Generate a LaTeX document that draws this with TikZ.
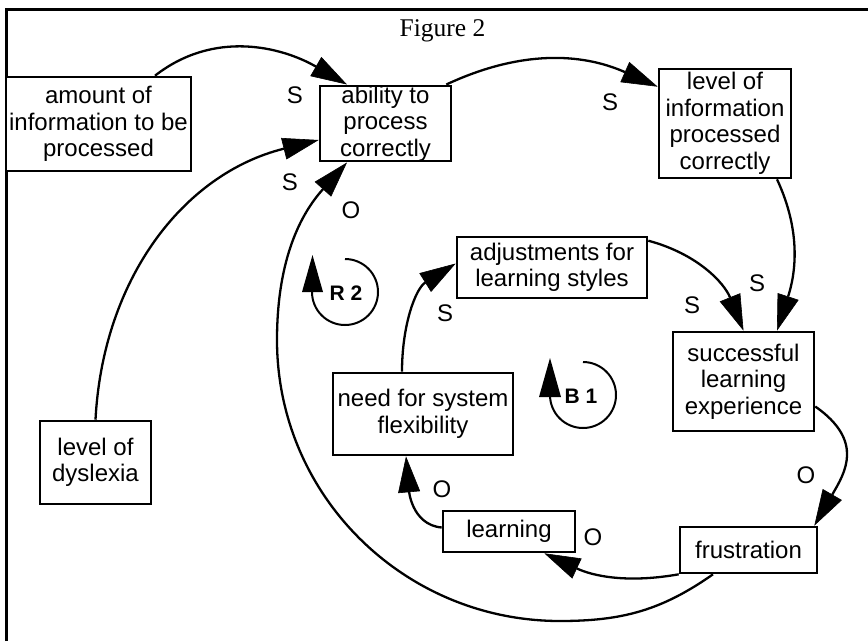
\documentclass[tikz,border=0pt]{standalone}
\usepackage{fontspec}
\setmainfont{Liberation Sans}
\newfontfamily\figserif{Liberation Serif}
\usetikzlibrary{arrows.meta,calc}
\begin{document}
\begin{tikzpicture}[x=1pt,y=1pt,
  box/.style={draw, line width=2.6pt, inner sep=0pt, align=center, fill=white,
    font=\fontsize{24}{26.5}\selectfont},
  lbl/.style={inner sep=0pt, font=\fontsize{24}{26}\selectfont},
  conn/.style={line width=2.3pt, -{Triangle[length=36pt,width=22pt,line width=0.6pt]}},
  loopline/.style={line width=2pt},
  loopname/.style={inner sep=0pt, font=\bfseries\fontsize{21}{21}\selectfont}]
\useasboundingbox (0,0) rectangle (868,-641);
% frame
\draw[line width=3pt] (6.5,-641) -- (6.5,-9.3) -- (868,-9.3);
\node[anchor=base, inner sep=0pt, font=\figserif\fontsize{25.5}{25.5}\selectfont] (title) at (442.5,-36.5) {Figure 2};
% boxes
\node[box, minimum width=185pt, minimum height=94pt] (amount) at (98.5,-124) {amount of\\information to be\\processed};
\node[box, minimum width=131pt, minimum height=71pt] (ability) at (385.5,-123.5) {ability to\\process\\correctly};
\node[box, minimum width=132pt, minimum height=109pt] (levinfo) at (725,-123.5) {level of\\information\\processed\\correctly};
\node[box, minimum width=190pt, minimum height=61pt] (adjust) at (552,-267.5) {adjustments for\\learning styles};
\node[box, minimum width=141pt, minimum height=99pt] (success) at (743.5,-381.5) {successful\\learning\\experience};
\node[box, minimum width=180pt, minimum height=82pt] (need) at (423,-414) {need for system\\flexibility};
\node[box, minimum width=132pt, minimum height=41pt] (learning) at (509,-531.5) {learning};
\node[box, minimum width=137pt, minimum height=46pt] (frust) at (748.5,-550) {frustration};
\node[box, minimum width=111pt, minimum height=83pt] (dyslexia) at (95.5,-462.5) {level of\\dyslexia};
% waypoints of the outer loop
\coordinate (loopbot) at (560,-621);
\coordinate (loopleft) at (277,-340);
% connectors
\draw[conn] ($(amount.north)+(56.5,0)$) to[out=38,in=150] ($(ability.north)+(-38.5,0)$);
\draw[conn] ($(ability.north east)+(-6,0)$) to[out=25,in=156] ($(levinfo.north west)+(0,-19)$);
\draw[conn] ($(levinfo.south)+(52,0)$) to[out=-65,in=72] ($(success.north)+(33.5,0)$);
\draw[conn] ($(adjust.north east)+(0,-5)$) to[out=-15,in=112] (success.north);
\draw[conn] ($(success.east)+(0,-25)$) to[out=-35,in=60,looseness=1.3] ($(frust.north east)+(-4,0)$);
\draw[conn] (frust.south west) to[out=190,in=-25] ($(learning.south east)+(-32,0)$);
\draw[conn] ($(learning.west)+(0,4)$) to[out=175,in=-85] ($(need.south)+(-17,0)$);
\draw[conn] ($(need.north)+(-21,0)$) to[out=90,in=-148] ($(adjust.west)+(0,4)$);
\draw[conn] (dyslexia.north) to[out=87,in=194] ($(ability.west)+(0,-16.5)$);
\draw[conn] ($(frust.south)+(-35.5,0)$) to[out=-145,in=0] (loopbot) to[out=180,in=-90] (loopleft) to[out=90,in=-132] ($(ability.south)+(-38.5,0)$);
% polarity labels
\node[lbl] (s1) at (295,-95) {S};
\node[lbl] (s2) at (290,-182) {S};
\node[lbl] (o1) at (351,-210) {O};
\node[lbl] (s3) at (610,-102) {S};
\node[lbl] (s4) at (692,-305) {S};
\node[lbl] (s5) at (757,-283) {S};
\node[lbl] (o2) at (806,-475) {O};
\node[lbl] (o3) at (593,-537) {O};
\node[lbl] (o4) at (442,-489) {O};
\node[lbl] (s6) at (445,-313) {S};
% loop symbols
\draw[loopline] (345,-259) arc[start angle=90, end angle=-180, radius=33];
\fill (302,-292) -- (323,-292) -- (312.5,-255) -- cycle;
\node[loopname] (r2) at (346,-293) {R 2};
\draw[loopline] (583,-362) arc[start angle=90, end angle=-180, radius=33];
\fill (539,-397) -- (561,-397) -- (550,-358) -- cycle;
\node[loopname] (b1) at (581,-396) {B 1};
\end{tikzpicture}
\end{document}
